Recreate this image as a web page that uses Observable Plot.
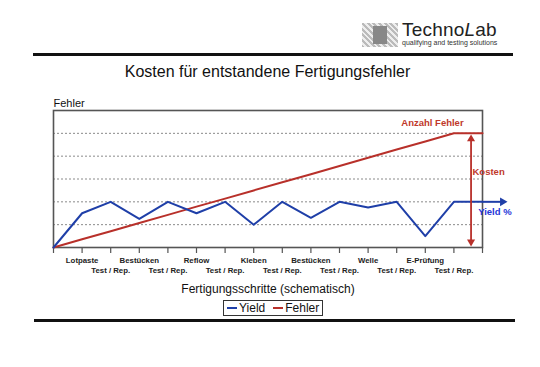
<!DOCTYPE html>
<html>
<head>
<meta charset="utf-8">
<script src="https://cdn.jsdelivr.net/npm/d3@7"></script>
<script src="https://cdn.jsdelivr.net/npm/@observablehq/plot@0.6"></script>
<style>
  html, body { margin: 0; padding: 0; background: #fff; }
  #page { position: relative; width: 540px; height: 367px; overflow: hidden; font-family: "Liberation Sans", Arial, sans-serif; }
  #chart { position: absolute; left: 0; top: 0; }
  .abs { position: absolute; white-space: nowrap; }
  .rule { position: absolute; background: #111; height: 3px; }
  #title { left: 0; width: 535px; text-align: center; top: 64px; font-size: 16px; line-height: 16px; color: #111; }
  #brand { left: 402px; top: 20px; font-size: 19px; line-height: 19px; color: #222; letter-spacing: 0.2px; }
  #brandsub { left: 402px; top: 39px; font-size: 7px; line-height: 7px; color: #333; }
  #logo { left: 362px; top: 23px; width: 36px; height: 24px;
    background: repeating-linear-gradient(45deg, #bbb 0 2px, #eee 2px 4px); }
  #logo::after { content: ""; position: absolute; left: 11px; top: 3px; width: 14px; height: 18px; background: #888; }
  #legend { left: 223px; top: 300px; height: 14px; padding: 0 3px; border: 1px solid #333; font-size: 12px; line-height: 14px; color: #111; display: flex; align-items: center; }
  .sw { display: inline-block; width: 10px; height: 2px; margin: 0 2px 0 0; }
</style>
</head>
<body>
<div id="page">
  <div id="logo" class="abs"></div>
  <div id="brand" class="abs">Techno<i>L</i>ab</div>
  <div id="brandsub" class="abs">qualifying and testing solutions</div>
  <div class="rule" style="left:33px; width:480px; top:53px;"></div>
  <div id="title" class="abs">Kosten für entstandene Fertigungsfehler</div>
  <div id="chart"></div>
  <div id="legend" class="abs"><span class="sw" style="background:#1f3fa8"></span>Yield<span style="display:inline-block;width:8px"></span><span class="sw" style="background:#b8302a"></span>Fehler</div>
  <div class="rule" style="left:34px; width:481px; top:319px;"></div>
</div>
<script>
// ---- data ----
const stepLabels = ["", "Lotpaste", "Test / Rep.", "Bestücken", "Test / Rep.", "Reflow", "Test / Rep.",
  "Kleben", "Test / Rep.", "Bestücken", "Test / Rep.", "Welle", "Test / Rep.", "E-Prüfung", "Test / Rep.", ""];
const yieldValues = [0, 1.5, 2, 1.25, 2, 1.5, 2, 1, 2, 1.3, 2, 1.75, 2, 0.5, 2, 2];
const fehlerValues = [0, 0.36, 0.71, 1.07, 1.43, 1.79, 2.14, 2.5, 2.86, 3.21, 3.57, 3.93, 4.29, 4.64, 5, 5];
const gridValues = [1, 2, 3, 4, 5];
const yAxisMax = 6;
// annotations (data units)
const yieldArrow = [{x1: 15, x2: 15.7, y: 2}];
const kostenArrow = [{x: 14.6, y1: 0.25, y2: 4.75}];
const labelAnzahl = [{x: 13.25, y: 5.45, text: "Anzahl Fehler"}];
const labelKosten = [{x: 14.65, y: 3.33, text: "Kosten"}];
const labelYield = [{x: 14.85, y: 1.55, text: "Yield %"}];

const idx = stepLabels.map((_, i) => i);
const yieldData = yieldValues.map((v, i) => ({x: i, y: v}));
const fehlerData = fehlerValues.map((v, i) => ({x: i, y: v}));
const labelsRow1 = idx.filter(i => i % 2 === 1).map(i => ({x: i, t: stepLabels[i]}));
const labelsRow2 = idx.filter(i => i % 2 === 0 && stepLabels[i]).map(i => ({x: i, t: stepLabels[i]}));

const BLUE = "#1f3fa8", RED = "#b8302a", RED_TXT = "#c0392b", BLUE_TXT = "#2536d8";

const chart = Plot.plot({
  width: 540,
  height: 367,
  marginLeft: 53,
  marginRight: 58,
  marginTop: 110,
  marginBottom: 120,
  style: {fontFamily: "'Liberation Sans', Arial, sans-serif", background: "transparent", overflow: "visible"},
  x: {domain: [0, idx.length - 1], axis: null},
  y: {domain: [0, yAxisMax], axis: null},
  marks: [
    Plot.ruleY(gridValues, {stroke: "#8a8a8a", strokeDasharray: "2,2", strokeWidth: 1}),
    Plot.frame({stroke: "#555", strokeWidth: 1.6}),
    Plot.axisX({ticks: idx, tickFormat: () => "", tickSize: 6, stroke: "#555", strokeWidth: 1.2}),
    Plot.text(labelsRow1, {x: "x", text: "t", frameAnchor: "bottom", dy: 15, fontSize: 7.8, fontWeight: "bold", fill: "#222"}),
    Plot.text(labelsRow2, {x: "x", text: "t", frameAnchor: "bottom", dy: 25, fontSize: 7.8, fontWeight: "bold", fill: "#222"}),
    Plot.text(["Fertigungsschritte (schematisch)"], {frameAnchor: "bottom", dy: 45, fontSize: 12, fill: "#111"}),
    Plot.text(["Fehler"], {frameAnchor: "top-left", textAnchor: "start", lineAnchor: "bottom", dy: -4, fontSize: 11, fill: "#111"}),
    // red Fehler line
    Plot.line(fehlerData, {x: "x", y: "y", stroke: RED, strokeWidth: 2}),
    // blue Yield line
    Plot.line(yieldData, {x: "x", y: "y", stroke: BLUE, strokeWidth: 2}),
    Plot.link(yieldArrow, {x1: "x1", x2: "x2", y1: "y", y2: "y", stroke: BLUE, strokeWidth: 2}),
    Plot.dot(yieldArrow, {x: "x2", y: "y", symbol: "triangle", r: 3.2, rotate: 90, fill: BLUE, stroke: null}),
    // Kosten double arrow
    Plot.link(kostenArrow, {x1: "x", x2: "x", y1: "y1", y2: "y2", stroke: RED, strokeWidth: 1.8}),
    Plot.dot(kostenArrow, {x: "x", y: "y2", symbol: "triangle", r: 3, rotate: 0, fill: RED, stroke: null}),
    Plot.dot(kostenArrow, {x: "x", y: "y1", symbol: "triangle", r: 3, rotate: 180, fill: RED, stroke: null}),
    Plot.text(labelAnzahl, {x: "x", y: "y", text: "text", fill: RED_TXT, textAnchor: "middle", fontSize: 9.5, fontWeight: "bold"}),
    Plot.text(labelKosten, {x: "x", y: "y", text: "text", fill: RED_TXT, textAnchor: "start", fontSize: 9.5, fontWeight: "bold"}),
    Plot.text(labelYield, {x: "x", y: "y", text: "text", fill: BLUE_TXT, textAnchor: "start", fontSize: 9.5, fontWeight: "bold"})
  ]
});
document.getElementById("chart").appendChild(chart);
</script>
</body>
</html>
